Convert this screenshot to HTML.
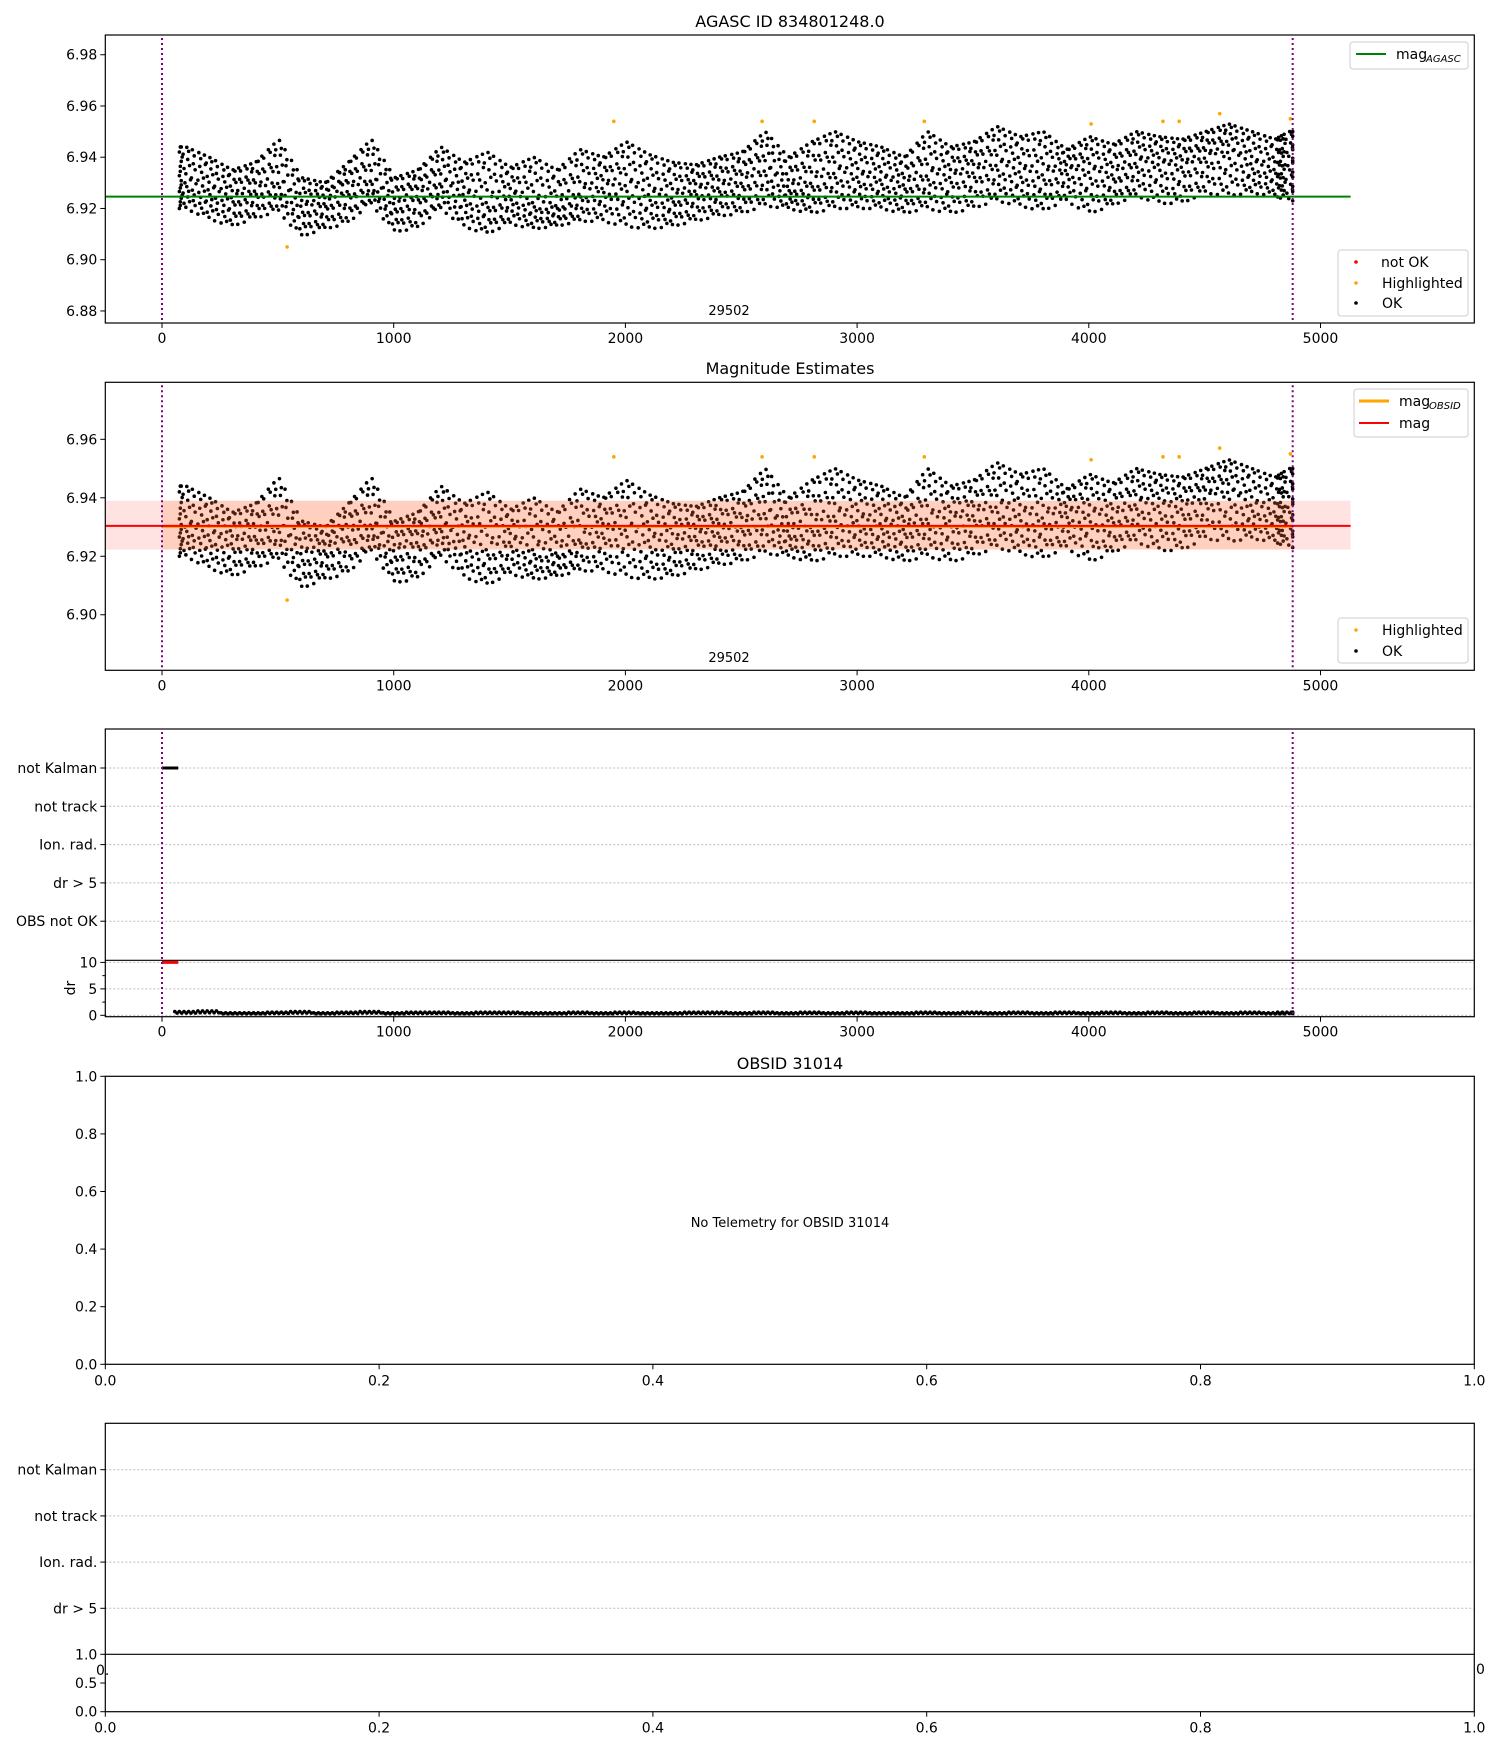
<!DOCTYPE html>
<html><head><meta charset="utf-8"><style>
html,body{margin:0;padding:0;background:#fff;}
svg{display:block;font-family:"DejaVu Sans","Liberation Sans",sans-serif;}
</style></head><body>
<svg id="fig" width="1500" height="1750" viewBox="0 0 1500 1750" xmlns="http://www.w3.org/2000/svg"></svg>
<script>
// ---- data (binned estimates) ----
const binTimes = [100,200,300,400,500,600,700,800,900,1000,1100,1200,1300,1400,1500,1600,1700,1800,1900,2000,2100,2200,2300,2400,2500,2600,2700,2800,2900,3000,3100,3200,3300,3400,3500,3600,3700,3800,3900,4000,4100,4200,4300,4400,4500,4600,4700,4800,4860];
const magMid = [6.930,6.927,6.924,6.927,6.930,6.920,6.922,6.927,6.931,6.921,6.925,6.930,6.925,6.922,6.925,6.922,6.921,6.926,6.928,6.929,6.925,6.924,6.927,6.928,6.930,6.935,6.928,6.930,6.934,6.932,6.931,6.929,6.933,6.932,6.934,6.937,6.934,6.933,6.935,6.934,6.933,6.938,6.937,6.936,6.940,6.942,6.937,6.935,6.937];
const magHigh = [6.944,6.940,6.935,6.938,6.947,6.932,6.930,6.938,6.947,6.932,6.935,6.944,6.938,6.942,6.936,6.940,6.935,6.943,6.940,6.946,6.941,6.938,6.937,6.940,6.942,6.950,6.940,6.946,6.950,6.946,6.944,6.940,6.950,6.944,6.946,6.952,6.948,6.950,6.943,6.948,6.945,6.950,6.948,6.947,6.950,6.953,6.950,6.947,6.950];
const magLow = [6.920,6.916,6.913,6.916,6.919,6.909,6.912,6.914,6.922,6.911,6.912,6.920,6.913,6.910,6.914,6.912,6.913,6.915,6.915,6.913,6.912,6.913,6.915,6.917,6.918,6.921,6.920,6.918,6.920,6.920,6.920,6.918,6.920,6.918,6.920,6.923,6.921,6.919,6.923,6.918,6.921,6.925,6.922,6.922,6.926,6.925,6.926,6.925,6.923];
const drValues = [0.6,0.7,0.4,0.4,0.5,0.6,0.4,0.5,0.6,0.4,0.5,0.5,0.4,0.5,0.5,0.4,0.4,0.5,0.4,0.5,0.4,0.4,0.5,0.5,0.4,0.5,0.4,0.5,0.4,0.5,0.4,0.4,0.5,0.4,0.5,0.4,0.5,0.4,0.5,0.4,0.5,0.4,0.5,0.4,0.5,0.4,0.5,0.4,0.5];
const hlTimes = [540,1950,2590,2815,3290,4010,4320,4390,4565,4870];
const hlMags = [6.905,6.954,6.954,6.954,6.954,6.953,6.954,6.954,6.957,6.955];
const xTicks = [0,1000,2000,3000,4000,5000];
const magTicksTop = [6.88,6.90,6.92,6.94,6.96,6.98];
const magTicksMid = [6.90,6.92,6.94,6.96];
const flagLabels = ["not Kalman","not track","Ion. rad.","dr > 5","OBS not OK"];
const flagLabels2 = ["not Kalman","not track","Ion. rad.","dr > 5"];
const drTicks = [0,5,10];
const fracTicks = [0.0,0.2,0.4,0.6,0.8,1.0];
const magAgasc = 6.9246, magObs = 6.9304, magBandHi = 6.9390, magBandLo = 6.9223;
const tStart = 0, tEnd = 4880, tLineEnd = 5130, kalmanEnd = 70;

const svg = document.getElementById('fig');
const NS = 'http://www.w3.org/2000/svg';
function el(tag, attrs, parent, text){
  const e = document.createElementNS(NS, tag);
  for (const k in attrs) e.setAttribute(k, attrs[k]);
  if (text !== undefined) e.textContent = text;
  (parent || svg).appendChild(e);
  return e;
}
const L = 105.3, R = 1474.3;
const X = t => 162 + t * 0.2317;
const F = v => L + v * (R - L);
function yMap(top, bottom, vTop, vBot){ return v => top + (vTop - v) / (vTop - vBot) * (bottom - top); }
function interp(arr, t){
  if (t <= binTimes[0]) return arr[0];
  for (let i=0;i<binTimes.length-1;i++){
    if (t <= binTimes[i+1]){
      const f = (t-binTimes[i])/(binTimes[i+1]-binTimes[i]);
      return arr[i] + (arr[i+1]-arr[i])*f;
    }
  }
  return arr[arr.length-1];
}

function text(x,y,s,anchor,size,name,parent){
  const t = el('text',{x:x,y:y,'text-anchor':anchor||'middle','font-size':size||14,fill:'#000'},parent,s);
  
  
  return t;
}
function frame(top,bottom,name){
  const r = el('rect',{x:L,y:top,width:R-L,height:bottom-top,fill:'none',stroke:'#000','stroke-width':1.2});
  
  
}
function xAxisTime(bottom){
  const g = el('g',{});
  
  
  xTicks.forEach(t=>{
    el('line',{x1:X(t),x2:X(t),y1:bottom,y2:bottom+5,stroke:'#000'},g);
    text(X(t),bottom+20,String(t),'middle',14,'x-tick-label',g);
  });
}
function yAxis(ticks,Y,fmt,name){
  const g = el('g',{});
  
  
  ticks.forEach(v=>{
    el('line',{x1:L-5,x2:L,y1:Y(v),y2:Y(v),stroke:'#000'},g);
    text(L-8,Y(v)+5,fmt(v),'end',14,'y-tick-label',g);
  });
}
function scatter(Y){
  const g = el('g',{});
  
  
  const fr = [0,0.1,0.2,0.3,0.4,0.5,0.6,0.7,0.8,0.9,1];
  const offs = [-45,-33,-21,-9,3,15,27,39];
  binTimes.forEach((t,i)=>{
    offs.forEach((dx,k)=>{
      const tt = Math.max(75, Math.min(t+dx, tEnd));
      const lo = interp(magLow, tt), mi = interp(magMid, tt), hi = interp(magHigh, tt);
      fr.forEach((f0,j)=>{
        if ((j+k)%2) return;
        const f = Math.min(1, f0 + (k%3)*0.03);
        const v = (f<=0.5) ? lo + (mi-lo)*f*2 : mi + (hi-mi)*(f-0.5)*2;
        const c = el('circle',{cx:X(Math.min(tt+(j%3)*4,tEnd)),cy:Y(v),r:1.8,fill:'#000'},g);
        
        
      });
    });
  });
  const h = el('g',{});
  
  
  hlTimes.forEach((t,i)=>{
    const c = el('circle',{cx:X(t),cy:Y(hlMags[i]),r:1.8,fill:'orange'},h);
    
    
  });
}
function vlines(top,bottom){
  [tStart,tEnd].forEach(t=>{
    const l = el('line',{x1:X(t),x2:X(t),y1:top,y2:bottom,stroke:'purple','stroke-width':2,'stroke-dasharray':'2,3'});
    
    
  });
}
function legendBox(x,y,w,h,name){
  const g = el('g',{});
  
  
  el('rect',{x:x,y:y,width:w,height:h,rx:3,fill:'#fff',stroke:'#ccc','fill-opacity':0.8},g);
  return g;
}

// ===== Panel 1 =====
const p1T=35,p1B=323; const Y1=yMap(p1T,p1B,6.9877,6.8753);
text(790,27,'AGASC ID 834801248.0','middle',16,'chart-title');
scatter(Y1);
let gl = el('line',{x1:L,x2:X(tLineEnd),y1:Y1(magAgasc),y2:Y1(magAgasc),stroke:'green','stroke-width':2});
 
vlines(p1T+3,p1B);
frame(p1T,p1B,'panel-agasc');
yAxis(magTicksTop,Y1,v=>v.toFixed(2),'y-axis-mag');
xAxisTime(p1B);
text(729,315,'29502','middle',13,'obsid-label');
let lg = legendBox(1350,42,118,27,'legend-agasc');
el('line',{x1:1356,x2:1386,y1:54,y2:54,stroke:'green','stroke-width':2},lg);
text(1396,59,'mag','start',14,'legend-mag-agasc',lg);
text(1426,62,'AGASC','start',10,'legend-sub',lg).setAttribute('font-style','italic');
lg = legendBox(1338,250,130,66,'legend-status');
el('circle',{cx:1356,cy:262,r:1.8,fill:'red'},lg); text(1381,267,'not OK','start',14,'legend-not-ok',lg);
el('circle',{cx:1356,cy:283,r:1.8,fill:'orange'},lg); text(1382,288,'Highlighted','start',14,'legend-highlighted',lg);
el('circle',{cx:1356,cy:303,r:1.8,fill:'#000'},lg); text(1382,308,'OK','start',14,'legend-ok',lg);

// ===== Panel 2 =====
const p2T=382.3,p2B=670.3; const Y2=yMap(p2T,p2B,6.9795,6.881);
text(790,374,'Magnitude Estimates','middle',16,'panel-title');
scatter(Y2);
let b = el('rect',{x:L,y:Y2(magBandHi),width:X(tLineEnd)-L,height:Y2(magBandLo)-Y2(magBandHi),fill:'red','fill-opacity':0.11});
 
b = el('rect',{x:X(tStart),y:Y2(magBandHi),width:X(tEnd)-X(tStart),height:Y2(magBandLo)-Y2(magBandHi),fill:'#ff8c40','fill-opacity':0.22});
 
let ol = el('line',{x1:X(tStart),x2:X(tEnd),y1:Y2(magObs)+1,y2:Y2(magObs)+1,stroke:'orange','stroke-width':2});
 
let rl = el('line',{x1:L,x2:X(tLineEnd),y1:Y2(magObs),y2:Y2(magObs),stroke:'red','stroke-width':2});
 
vlines(p2T+3,p2B);
frame(p2T,p2B,'panel-magnitude');
yAxis(magTicksMid,Y2,v=>v.toFixed(2),'y-axis-mag-2');
xAxisTime(p2B);
text(729,662,'29502','middle',13,'obsid-label-2');
lg = legendBox(1354,389,114,48,'legend-mag');
el('line',{x1:1359,x2:1389,y1:401,y2:401,stroke:'orange','stroke-width':3},lg);
text(1399,406,'mag','start',14,'legend-mag-obsid',lg);
text(1429,409,'OBSID','start',10,'legend-sub',lg).setAttribute('font-style','italic');
el('line',{x1:1359,x2:1389,y1:423,y2:423,stroke:'red','stroke-width':2},lg);
text(1399,428,'mag','start',14,'legend-mag',lg);
lg = legendBox(1338,618,130,45,'legend-status-2');
el('circle',{cx:1356,cy:630,r:1.8,fill:'orange'},lg); text(1382,635,'Highlighted','start',14,'legend-highlighted',lg);
el('circle',{cx:1356,cy:651,r:1.8,fill:'#000'},lg); text(1382,656,'OK','start',14,'legend-ok',lg);

// ===== Panel 3 (flags + dr) =====
const p3T=729,p3M=960.3,p3B=1016.7;
const flagY = i => 768 + i*38.3;
flagLabels.forEach((s,i)=>{
  el('line',{x1:L,x2:R,y1:flagY(i),y2:flagY(i),stroke:'#bbb','stroke-dasharray':'2,2'});
  el('line',{x1:L-5,x2:L,y1:flagY(i),y2:flagY(i),stroke:'#000'});
  text(L-8,flagY(i)+5,s,'end',14,'flag-label');
});
let kb = el('line',{x1:X(tStart),x2:X(kalmanEnd),y1:flagY(0),y2:flagY(0),stroke:'#000','stroke-width':3});
 
const Yd = yMap(p3M,p3B,10.4,-0.26);
drTicks.forEach(v=>{
  el('line',{x1:L,x2:R,y1:Yd(v),y2:Yd(v),stroke:'#bbb','stroke-dasharray':'2,2'});
  el('line',{x1:L-5,x2:L,y1:Yd(v),y2:Yd(v),stroke:'#000'});
  text(L-8,Yd(v)+5,String(v),'end',14,'dr-tick-label');
});
[2.5,7.5].forEach(v=>el('line',{x1:L-3,x2:L,y1:Yd(v),y2:Yd(v),stroke:'#000'}));
const dg = el('g',{});  
binTimes.forEach((t,i)=>{
  [-45,-35,-25,-15,-5,5,15,25,35,45].forEach((dx,k)=>{
    const tt=Math.min(t+dx,tEnd);
    const c=el('circle',{cx:X(tt),cy:Yd(drValues[i]*(k%2?0.7:1.2)),r:1.8,fill:'#000'},dg);
     
  });
});
let rd = el('line',{x1:X(tStart),x2:X(kalmanEnd),y1:Yd(10),y2:Yd(10),stroke:'red','stroke-width':3});
 
vlines(p3T+3,p3B);
frame(p3T,p3B,'panel-flags');
el('line',{x1:L,x2:R,y1:p3M,y2:p3M,stroke:'#000','stroke-width':1.2});
let dl = text(70,993,'dr','middle',14,'dr-axis-title'); dl.setAttribute('transform','rotate(-90 70 988)');
xAxisTime(p3B);

// ===== Panel 4 =====
const p4T=1076.3,p4B=1364.3; const Y4=yMap(p4T,p4B,1,0);
text(790,1069,'OBSID 31014','middle',16,'panel-title-obsid');
frame(p4T,p4B,'panel-obsid');
fracTicks.forEach(v=>{
  el('line',{x1:L-5,x2:L,y1:Y4(v),y2:Y4(v),stroke:'#000'});
  text(L-8,Y4(v)+5,v.toFixed(1),'end',14,'y-tick-label');
  el('line',{x1:F(v),x2:F(v),y1:p4B,y2:p4B+5,stroke:'#000'});
  text(F(v),p4B+21,v.toFixed(1),'middle',14,'x-tick-label');
});
text(790,1227,'No Telemetry for OBSID 31014','middle',13,'no-telemetry-message');

// ===== Panel 5 =====
const p5T=1423.3,p5M=1654.3,p5B=1711.7;
const flagY2 = i => 1469.7 + i*46.2;
flagLabels2.forEach((s,i)=>{
  el('line',{x1:L,x2:R,y1:flagY2(i),y2:flagY2(i),stroke:'#bbb','stroke-dasharray':'2,2'});
  el('line',{x1:L-5,x2:L,y1:flagY2(i),y2:flagY2(i),stroke:'#000'});
  text(L-8,flagY2(i)+5,s,'end',14,'flag-label');
});
frame(p5T,p5B,'panel-flags-2');
el('line',{x1:L,x2:R,y1:p5M,y2:p5M,stroke:'#000','stroke-width':1.2});
const Y5=yMap(p5M,p5B,1,0);
[0,0.5,1].forEach(v=>{
  el('line',{x1:L-5,x2:L,y1:Y5(v),y2:Y5(v),stroke:'#000'});
  text(L-8,Y5(v)+5,v.toFixed(1),'end',14,'y-tick-label');
});
text(96,1675,'0.','start',14,'hidden-tick-label');
text(1476,1674,'0','start',14,'hidden-tick-label');
fracTicks.forEach(v=>{
  el('line',{x1:F(v),x2:F(v),y1:p5B,y2:p5B+5,stroke:'#000'});
  text(F(v),p5B+21,v.toFixed(1),'middle',14,'x-tick-label');
});
</script>
</body></html>
